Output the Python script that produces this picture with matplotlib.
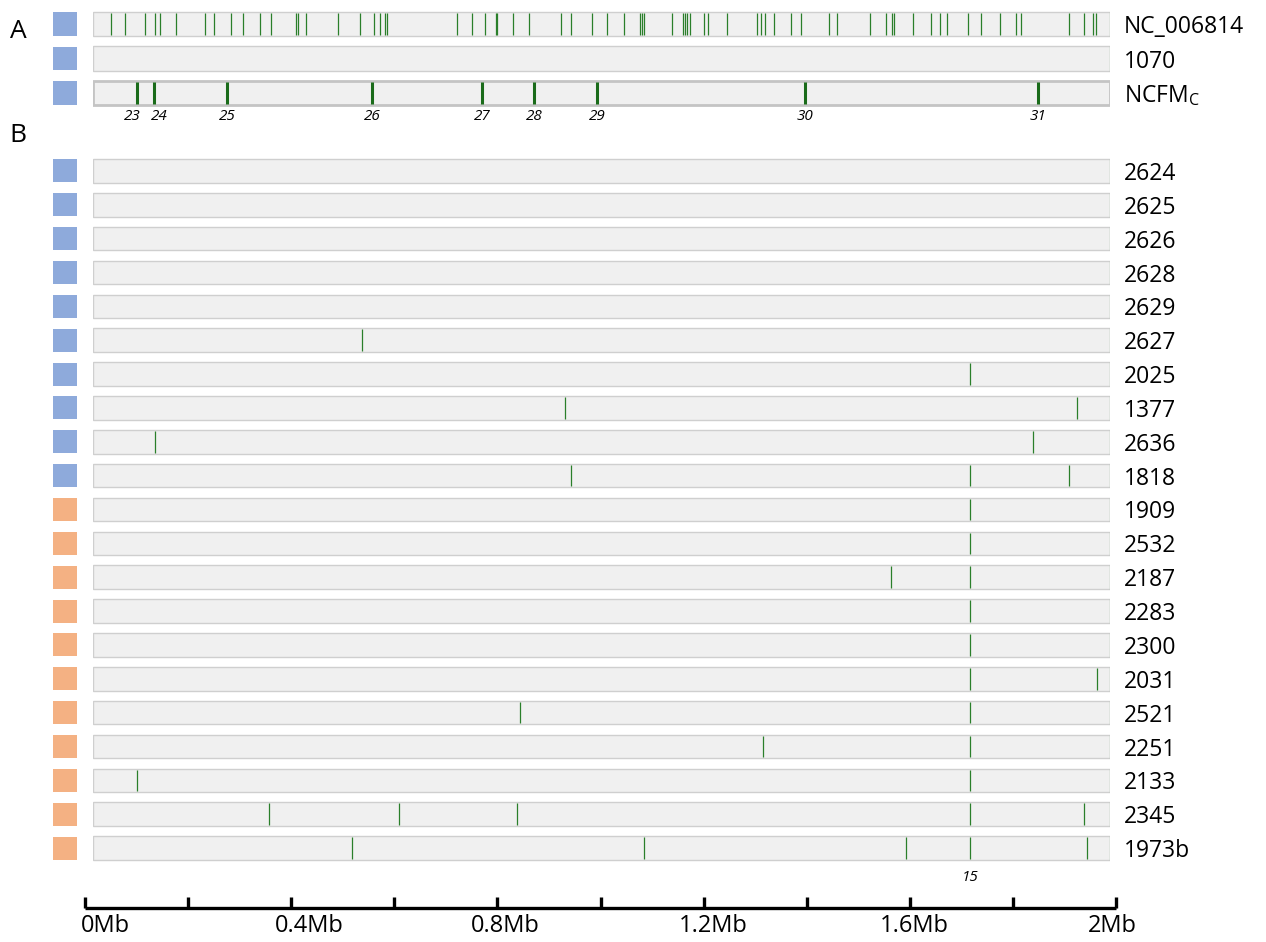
import matplotlib
matplotlib.use("Agg")
import matplotlib.pyplot as plt
from matplotlib.patches import Rectangle
from matplotlib.transforms import blended_transform_factory, offset_copy
from matplotlib.ticker import MultipleLocator

plt.rcParams['font.family'] = ['Open Sans', 'DejaVu Sans']
plt.rcParams['mathtext.default'] = 'regular'

genome_len = 1.99  # Mb

# panel A
top_names = ['NC_006814', '1070', r'NCFM$_{C}$']
top_groups = ['blue', 'blue', 'blue']
nc_006814 = [0.035, 0.063, 0.102, 0.121, 0.132, 0.163, 0.219, 0.237, 0.271, 0.293,
             0.327, 0.348, 0.398, 0.401, 0.417, 0.479, 0.523, 0.549, 0.562, 0.572,
             0.575, 0.713, 0.742, 0.768, 0.789, 0.791, 0.821, 0.853, 0.915, 0.935,
             0.976, 1.006, 1.039, 1.070, 1.074, 1.078, 1.132, 1.154, 1.158, 1.162,
             1.168, 1.195, 1.204, 1.241, 1.299, 1.307, 1.315, 1.333, 1.366, 1.386,
             1.441, 1.455, 1.520, 1.551, 1.563, 1.567, 1.604, 1.639, 1.657, 1.672,
             1.713, 1.738, 1.775, 1.807, 1.815, 1.909, 1.940, 1.957, 1.962]
s1070 = []
ncfm_pos = [0.086, 0.119, 0.262, 0.546, 0.761, 0.863, 0.986, 1.393, 1.849]
ncfm_ids = ['23', '24', '25', '26', '27', '28', '29', '30', '31']
top_sites = [nc_006814, s1070, ncfm_pos]

# panel B
strains = ['2624', '2625', '2626', '2628', '2629', '2627', '2025', '1377', '2636', '1818',
           '1909', '2532', '2187', '2283', '2300', '2031', '2521', '2251', '2133', '2345', '1973b']
groups = ['blue'] * 10 + ['orange'] * 11
sites = [
    [], [], [], [], [],
    [0.526],
    [1.716],
    [0.924, 1.925],
    [0.121, 1.839],
    [0.935, 1.716, 1.910],
    [1.716],
    [1.716],
    [1.561, 1.716],
    [1.716],
    [1.716],
    [1.716, 1.965],
    [0.836, 1.716],
    [1.311, 1.716],
    [0.086, 1.716],
    [0.344, 0.599, 0.830, 1.716, 1.939],
    [0.507, 1.078, 1.591, 1.716, 1.945],
]
site15_pos = 1.716

scale_ticks = [0, 0.4, 0.8, 1.2, 1.6, 2.0]
scale_labels = ['0Mb', '0.4Mb', '0.8Mb', '1.2Mb', '1.6Mb', '2Mb']

group_colors = {'blue': '#8eaadb', 'orange': '#f4b183'}
bar_fill = '#f0f0f0'
bar_edge = '#cfcfcf'
green = '#2a7f2a'
dark_green = '#1a6b1a'

W, H = 1266, 942
fig = plt.figure(figsize=(W / 100, H / 100), dpi=100)


def px_axes(x0, y0, x1, y1):
    return fig.add_axes([x0 / W, 1 - y1 / H, (x1 - x0) / W, (y1 - y0) / H])


bar_h = 0.7
label_fs = 16.5


def draw_rows(ax, names, grps, positions, thick_row=None):
    n = len(names)
    ax.set_xlim(0, genome_len)
    ax.set_ylim(n - 0.5, -0.5)
    ax.axis('off')
    tr = blended_transform_factory(fig.transFigure, ax.transData)
    tr_txt = offset_copy(tr, fig=fig, x=0, y=-3, units='dots')
    for i in range(n):
        thick = (i == thick_row)
        ax.add_patch(Rectangle((0, i - bar_h / 2), genome_len, bar_h,
                               facecolor=bar_fill, edgecolor='#c4c4c4' if thick else bar_edge,
                               lw=2.0 if thick else 1.0, zorder=1))
        if not thick:
            ax.vlines(genome_len, i - bar_h / 2, i + bar_h / 2, color='#5aa55a', lw=0.8, zorder=3)
        ax.vlines(positions[i], i - bar_h / 2 + 0.03, i + bar_h / 2 - 0.03,
                  color=dark_green if thick else green, lw=2.2 if thick else 0.9, zorder=2)
        ax.add_patch(Rectangle((53 / W, i - 0.34), 24 / W, 0.68, transform=tr,
                               facecolor=group_colors[grps[i]], edgecolor='none', clip_on=False))
        ax.text(1124 / W, i, names[i], transform=tr_txt, ha='left', va='center',
                fontsize=label_fs, color='black')


# panel A axes
axA = px_axes(93, 7, 1110, 110)
draw_rows(axA, top_names, top_groups, top_sites, thick_row=2)
id_shift = [-5, 5, 0, 0, 0, 0, 0, 0, 0]
for p, lab, dx in zip(ncfm_pos, ncfm_ids, id_shift):
    trl = offset_copy(axA.transData, fig=fig, x=dx, y=0, units='dots')
    axA.text(p, 2.68, lab, transform=trl, ha='center', va='center', fontsize=11, style='italic')

# panel B axes
axB = px_axes(93, 154, 1110, 865)
draw_rows(axB, strains, groups, sites)
axB.text(site15_pos, 20.86, '15', ha='center', va='center', fontsize=11, style='italic')

fig.text(18 / W, 1 - 31 / H, 'A', fontsize=19, ha='center', va='center')
fig.text(18 / W, 1 - 136 / H, 'B', fontsize=19, ha='center', va='center')

# scale bar
axS = px_axes(85, 880, 1116, 908)
axS.set_xlim(0, 2)
axS.set_ylim(0, 1)
axS.set_facecolor('none')
for s in ['top', 'left', 'right']:
    axS.spines[s].set_visible(False)
axS.spines['bottom'].set_linewidth(2.4)
axS.spines['bottom'].set_capstyle('butt')
axS.set_yticks([])
axS.xaxis.set_minor_locator(MultipleLocator(0.2))
axS.set_xticks(scale_ticks)
axS.set_xticklabels([])
axS.tick_params(axis='x', which='both', direction='in', length=8, width=2.4)
shift = [20, 18, 8, 10, 5, -4]
for t, lab, dx in zip(scale_ticks, scale_labels, shift):
    trl = offset_copy(axS.get_xaxis_transform(), fig=fig, x=dx, y=-6, units='dots')
    axS.text(t, 0, lab, transform=trl, ha='center', va='top', fontsize=17)

fig.savefig('out.png', dpi=100)
